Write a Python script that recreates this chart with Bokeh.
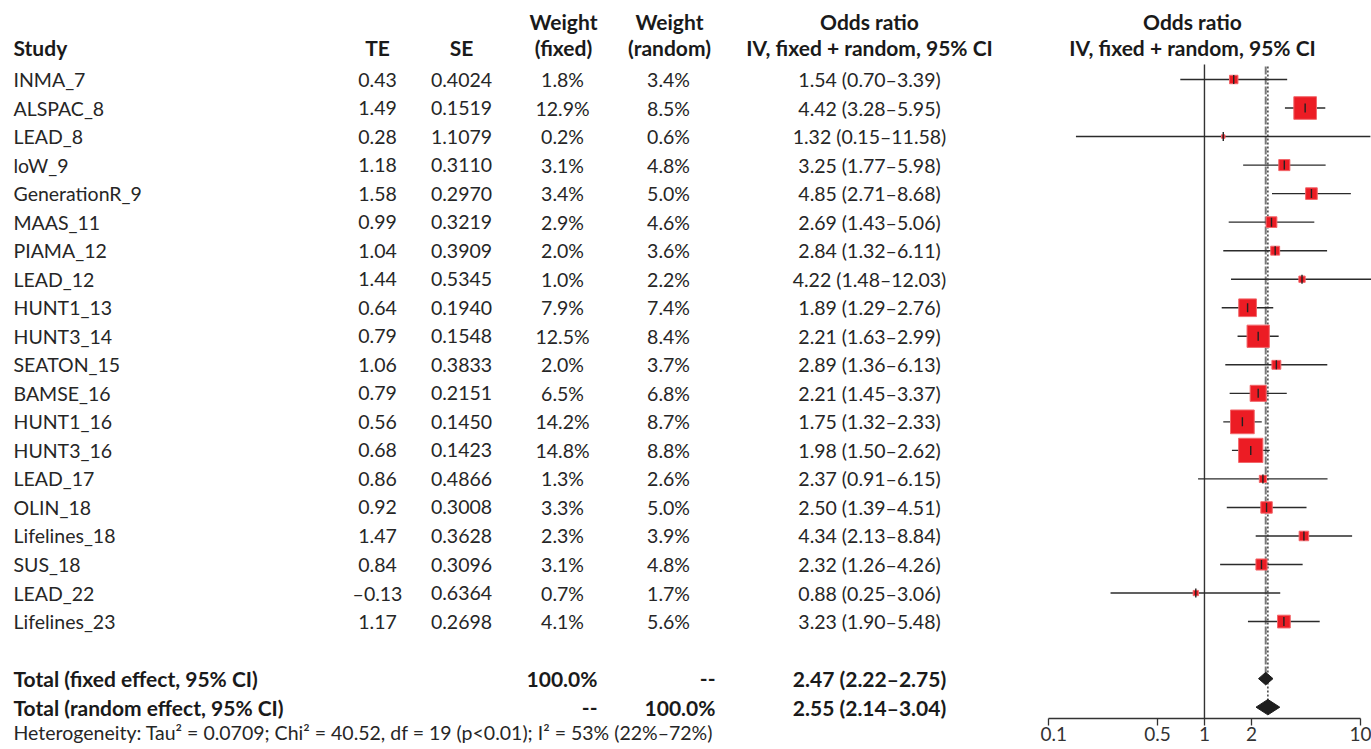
import numpy as np
from bokeh.plotting import figure
from bokeh.models import Range1d, LogAxis, FixedTicker, NumeralTickFormatter, ColumnDataSource, Title
from bokeh.layouts import row
from bokeh.core.properties import value
from bokeh.embed import file_html
from bokeh.resources import INLINE

# ---------------- data ----------------
studies = ["INMA_7", "ALSPAC_8", "LEAD_8", "loW_9", "GenerationR_9", "MAAS_11", "PIAMA_12",
           "LEAD_12", "HUNT1_13", "HUNT3_14", "SEATON_15", "BAMSE_16", "HUNT1_16", "HUNT3_16",
           "LEAD_17", "OLIN_18", "Lifelines_18", "SUS_18", "LEAD_22", "Lifelines_23"]
te = [0.43, 1.49, 0.28, 1.18, 1.58, 0.99, 1.04, 1.44, 0.64, 0.79, 1.06, 0.79, 0.56, 0.68,
      0.86, 0.92, 1.47, 0.84, -0.13, 1.17]
se = [0.4024, 0.1519, 1.1079, 0.3110, 0.2970, 0.3219, 0.3909, 0.5345, 0.1940, 0.1548,
      0.3833, 0.2151, 0.1450, 0.1423, 0.4866, 0.3008, 0.3628, 0.3096, 0.6364, 0.2698]
w_fixed = [1.8, 12.9, 0.2, 3.1, 3.4, 2.9, 2.0, 1.0, 7.9, 12.5, 2.0, 6.5, 14.2, 14.8,
           1.3, 3.3, 2.3, 3.1, 0.7, 4.1]
w_random = [3.4, 8.5, 0.6, 4.8, 5.0, 4.6, 3.6, 2.2, 7.4, 8.4, 3.7, 6.8, 8.7, 8.8,
            2.6, 5.0, 3.9, 4.8, 1.7, 5.6]
or_est = [1.54, 4.42, 1.32, 3.25, 4.85, 2.69, 2.84, 4.22, 1.89, 2.21, 2.89, 2.21, 1.75, 1.98,
          2.37, 2.50, 4.34, 2.32, 0.88, 3.23]
or_lo = [0.70, 3.28, 0.15, 1.77, 2.71, 1.43, 1.32, 1.48, 1.29, 1.63, 1.36, 1.45, 1.32, 1.50,
         0.91, 1.39, 2.13, 1.26, 0.25, 1.90]
or_hi = [3.39, 5.95, 11.58, 5.98, 8.68, 5.06, 6.11, 12.03, 2.76, 2.99, 6.13, 3.37, 2.33, 2.62,
         6.15, 4.51, 8.84, 4.26, 3.06, 5.48]

total_labels = ["Total (fixed effect, 95% CI)", "Total (random effect, 95% CI)"]
total_wfixed = ["100.0%", "--"]
total_wrandom = ["--", "100.0%"]
total_or = [2.47, 2.55]
total_lo = [2.22, 2.14]
total_hi = [2.75, 3.04]
heterogeneity = "Heterogeneity: Tau\u00b2 = 0.0709; Chi\u00b2 = 40.52, df = 19 (p<0.01); I\u00b2 = 53% (22%\u201372%)"
axis_ticks = [0.1, 0.5, 1, 2, 10]

# ---------------- layout constants ----------------
FONT = value("Lato")
FS = "19.5px"
FSB = "21px"
TXT = "#262626"
n = len(studies)
rows_y = list(range(n))
tot_y = [n + 1, n + 2]
hdr1, hdr2 = -2.03, -1.12
ROW_PX = 28.53
ROW0 = 79
H = 749
MB = 31
Y_TOP = -ROW0 / ROW_PX
Y_BOT = (H - MB - ROW0) / ROW_PX

def fmt_te(v):
    return ("\u2013%.2f" % abs(v)) if v < 0 else "%.2f" % v

def fmt_or(e, l, h):
    return "%.2f (%.2f\u2013%.2f)" % (e, l, h)

# ---------------- left table ----------------
left = figure(width=1040, height=H, x_range=Range1d(0, 1040), y_range=Range1d(Y_BOT, Y_TOP),
              x_axis_location=None, y_axis_location=None, output_backend="svg",
              toolbar_location=None, min_border=0, min_border_bottom=MB, outline_line_color=None)
left.grid.visible = False

src = ColumnDataSource(dict(
    y=rows_y, study=studies,
    te=[fmt_te(v) for v in te], se=["%.4f" % v for v in se],
    wf=["%.1f%%" % v for v in w_fixed], wr=["%.1f%%" % v for v in w_random],
    orr=[fmt_or(e, l, h) for e, l, h in zip(or_est, or_lo, or_hi)],
))
common = dict(text_font=FONT, text_font_size=FS, text_baseline="middle", text_color=TXT)
left.text(x=13, y="y", text="study", text_align="left", source=src, **common)
left.text(x=377, y="y", text="te", text_align="center", source=src, **common)
left.text(x=461, y="y", text="se", text_align="center", source=src, **common)
left.text(x=562, y="y", text="wf", text_align="center", source=src, **common)
left.text(x=668, y="y", text="wr", text_align="center", source=src, **common)
left.text(x=869, y="y", text="orr", text_align="center", source=src, **common)

bold = dict(text_font=FONT, text_font_size=FSB, text_baseline="middle", text_color="#1a1a1a",
            text_font_style="bold")
tsrc = ColumnDataSource(dict(y=tot_y, lab=total_labels, wf=total_wfixed, wr=total_wrandom,
                             orr=[fmt_or(e, l, h) for e, l, h in zip(total_or, total_lo, total_hi)]))
left.text(x=13, y="y", text="lab", text_align="left", source=tsrc, **bold)
left.text(x=597, y="y", text="wf", text_align="right", source=tsrc, **bold)
left.text(x=715, y="y", text="wr", text_align="right", source=tsrc, **bold)
left.text(x=869, y="y", text="orr", text_align="center", source=tsrc, **bold)

# heterogeneity line under the table
left.add_layout(Title(text=heterogeneity, align="left", offset=13, standoff=0,
                      text_font="Lato", text_font_size=FS, text_font_style="normal",
                      text_color=TXT), "below")

# headers
left.text(x=[13, 377, 461, 563, 669, 869], y=[hdr2] * 6,
          text=["Study", "TE", "SE", "(fixed)", "(random)", "IV, fixed + random, 95% CI"],
          text_align=["left", "center", "center", "center", "center", "center"], **bold)
left.text(x=[563, 669, 869], y=[hdr1] * 3, text=["Weight", "Weight", "Odds ratio"],
          text_align="center", **bold)

# ---------------- right forest ----------------
right = figure(width=331, height=H, x_axis_type="log", x_range=Range1d(0.0889, 11.77),
               y_range=Range1d(Y_BOT, Y_TOP), x_axis_location=None, y_axis_location=None,
               output_backend="svg", toolbar_location=None, min_border=0,
               min_border_bottom=MB, outline_line_color=None)
right.grid.visible = False

ax = LogAxis(ticker=FixedTicker(ticks=axis_ticks), formatter=NumeralTickFormatter(format="0.[0]"),
             bounds=(axis_ticks[0], axis_ticks[-1]))
ax.axis_line_color = "#333333"
ax.axis_line_width = 1.3
ax.major_tick_line_color = "#333333"
ax.major_tick_line_width = 1.3
ax.major_tick_out = 7
ax.major_tick_in = 0
ax.minor_tick_out = 0
ax.minor_tick_in = 0
ax.major_label_standoff = 1
ax.major_label_text_font = "Lato"
ax.major_label_text_font_size = "19px"
ax.major_label_text_color = "#333333"
right.add_layout(ax, "below")

right.text(x=[0.838, 0.838], y=[hdr1, hdr2], text=["Odds ratio", "IV, fixed + random, 95% CI"],
           text_align="center", **bold)

# null line
right.segment(x0=[1], y0=[-0.53], x1=[1], y1=[30], line_color="#333333", line_width=1.4)
# fixed and random effect lines
right.segment(x0=[total_or[0]], y0=[-0.46], x1=[total_or[0]], y1=[tot_y[0]],
              line_color="#777777", line_width=2, line_dash="8 2")
right.segment(x0=[total_or[1]], y0=[-0.46], x1=[total_or[1]], y1=[tot_y[1]],
              line_color="#222222", line_width=1.3, line_dash="2 2")

fsrc = ColumnDataSource(dict(y=rows_y, est=or_est, lo=or_lo, hi=or_hi,
                             sz=[max(3.5, 6.3 * np.sqrt(w)) for w in w_fixed]))
right.segment(x0="lo", y0="y", x1="hi", y1="y", source=fsrc, line_color="#2b2b2b", line_width=1.4)
right.scatter(x="est", y="y", size="sz", marker="square", source=fsrc,
              fill_color="#EC1C24", line_color="#F2676B", line_width=1)
right.scatter(x="est", y="y", size=9, marker="dash", angle=np.pi / 2, source=fsrc,
              line_color="#222222", line_width=1.4)

# diamonds
half = [0.22, 0.27]
dx = [[l, e, h, e] for e, l, h in zip(total_or, total_lo, total_hi)]
dy = [[y, y - hh, y, y + hh] for y, hh in zip(tot_y, half)]
right.patches(xs=dx, ys=dy, fill_color="#1e1e1e", line_color="#1e1e1e", line_width=1)

layout = row(left, right)
open("out.html", "w").write(file_html(layout, INLINE))
